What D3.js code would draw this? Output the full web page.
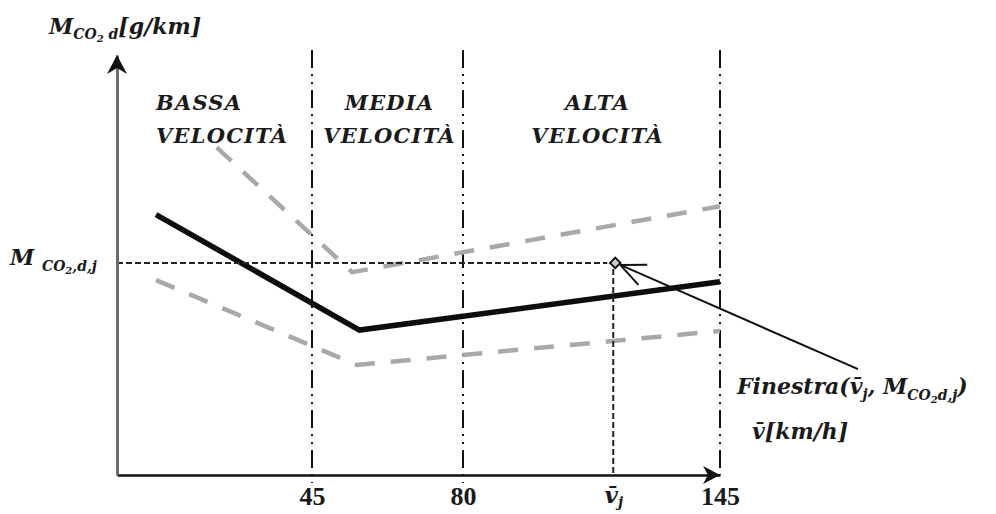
<!DOCTYPE html>
<html>
<head>
<meta charset="utf-8">
<script src="https://cdn.jsdelivr.net/npm/d3@7"></script>
<style>
  body { margin: 0; background: #fff; }
  svg { display: block; }
  .lbl { font-family: "DejaVu Serif", serif; font-weight: bold; font-style: italic; fill: #1a1a1a; }
  .num { font-family: "Liberation Serif", serif; font-weight: bold; fill: #1a1a1a; }
</style>
</head>
<body>
<div id="chart"></div>
<script>
// speed classes on the x axis (km/h)
const boundaries = [45, 80, 145];
const vj = 118;
const tickValues = [45, 80, vj, 145];
const tickLabels = ["45", "80", "v\u0304", "145"];
const regionNames = [
  ["BASSA", "VELOCITÀ"],
  ["MEDIA", "VELOCITÀ"],
  ["ALTA", "VELOCITÀ"],
];

// emission curves (x = mean speed, y = emission, arbitrary units)
const meanSpeeds = [9, 56, 145];
const meanCO2 = [62, 34.5, 46];
const upperSpeeds = [23, 54.3, 145];
const upperCO2 = [78, 48.3, 64];
const lowerSpeeds = [9, 55.4, 145];
const lowerCO2 = [46.4, 26.2, 34.3];

// the window point (vj, M_CO2,d,j)
const windowCO2 = 50.5;

const W = 996, H = 514;
const svg = d3.select("#chart").append("svg")
  .attr("width", W).attr("height", H);

// piecewise scale, the drawing is not to scale between classes
const x = d3.scaleLinear().domain([0, 45, 80, 145]).range([117, 312, 463, 720]);
const y = d3.scaleLinear().domain([0, 100]).range([475, 55]);

const toPts = (xs, ys) => xs.map((v, i) => [v, ys[i]]);
const line = d3.line().x((d) => x(d[0])).y((d) => y(d[1]));

// class boundaries (dash-dot)
svg.selectAll(".bound")
  .data(boundaries)
  .enter()
  .append("line")
  .attr("class", "bound")
  .attr("x1", (d) => x(d)).attr("x2", (d) => x(d))
  .attr("y1", y(100) - 5)
  .attr("y2", (d) => (d === 145 ? y(0) : y(0) + 8))
  .attr("stroke", "#111")
  .attr("stroke-width", 2)
  .attr("stroke-dasharray", "18,6,2,6,2,6");

// grey dashed bands
[toPts(upperSpeeds, upperCO2), toPts(lowerSpeeds, lowerCO2)].forEach((pts) => {
  svg.append("path")
    .datum(pts)
    .attr("d", line)
    .attr("fill", "none")
    .attr("stroke", "#a9a9a9")
    .attr("stroke-width", 4.5)
    .attr("stroke-dasharray", "20,16");
});

// mean curve
svg.append("path")
  .datum(toPts(meanSpeeds, meanCO2))
  .attr("d", line)
  .attr("fill", "none")
  .attr("stroke", "#0d0d0d")
  .attr("stroke-width", 5.5)
  .attr("stroke-linejoin", "miter");

// reference lines to the window point
svg.append("line")
  .attr("x1", x(0)).attr("x2", x(vj) - 6)
  .attr("y1", y(windowCO2)).attr("y2", y(windowCO2))
  .attr("stroke", "#222").attr("stroke-width", 2)
  .attr("stroke-dasharray", "6,3");
svg.append("line")
  .attr("x1", x(vj)).attr("x2", x(vj))
  .attr("y1", y(windowCO2) + 6).attr("y2", y(0))
  .attr("stroke", "#222").attr("stroke-width", 2)
  .attr("stroke-dasharray", "6,3");

// diamond marker
svg.append("path")
  .attr("d", d3.symbol(d3.symbolDiamond2, 70)())
  .attr("transform", `translate(${x(vj) + 2},${y(windowCO2)})`)
  .attr("fill", "#ccc")
  .attr("stroke", "#111")
  .attr("stroke-width", 2);

// pointer from the label to the window point
const tip = [x(vj) + 7, y(windowCO2) + 2];
const tail = [x(145) + 138, y(25.2)];
const ang = Math.atan2(tail[1] - tip[1], tail[0] - tip[0]);
svg.append("line")
  .attr("x1", tip[0]).attr("y1", tip[1])
  .attr("x2", tail[0]).attr("y2", tail[1])
  .attr("stroke", "#111").attr("stroke-width", 2);
[-0.42, 0.42].forEach((da) => {
  svg.append("line")
    .attr("x1", tip[0]).attr("y1", tip[1])
    .attr("x2", tip[0] + 27 * Math.cos(ang + da))
    .attr("y2", tip[1] + 27 * Math.sin(ang + da))
    .attr("stroke", "#111").attr("stroke-width", 2);
});

// axes
const xAxis = svg.append("g")
  .attr("transform", `translate(0,${y(0)})`)
  .call(d3.axisBottom(x).tickValues(tickValues)
    .tickFormat((d, i) => tickLabels[i])
    .tickSize(0).tickPadding(12));
xAxis.select(".domain").attr("stroke", "#111").attr("stroke-width", 2.5);
xAxis.selectAll("text")
  .attr("class", "num")
  .attr("font-size", 26)
  .attr("fill", "#1a1a1a");
xAxis.selectAll("text")
  .filter((d) => d === vj)
  .attr("class", "lbl")
  .attr("font-size", 23)
  .append("tspan")
  .attr("font-size", 14)
  .attr("dy", 4)
  .text("j");

const yAxis = svg.append("g")
  .attr("transform", `translate(${x(0)},0)`)
  .call(d3.axisLeft(y).tickValues([]).tickSizeOuter(0));
yAxis.select(".domain").attr("stroke", "#6e6a6a").attr("stroke-width", 3);

// arrow heads
const ax = x(145), ay = y(0);
svg.append("path")
  .attr("d", `M${ax},${ay} L${ax - 17},${ay - 9} L${ax - 12},${ay} L${ax - 17},${ay + 9} Z`)
  .attr("fill", "#111");
const bx = x(0), by = y(100);
svg.append("path")
  .attr("d", `M${bx},${by} L${bx - 10},${by + 19} L${bx},${by + 13} L${bx + 10},${by + 19} Z`)
  .attr("fill", "#111");

// class labels
const regionCenters = [null, (45 + 80) / 2, (80 + 145) / 2];
regionNames.forEach((lines, i) => {
  lines.forEach((s, k) => {
    svg.append("text")
      .attr("class", "lbl")
      .attr("x", i === 0 ? x(9) : x(regionCenters[i]) + (i === 2 ? 6 : 2))
      .attr("y", 110 + k * 33)
      .attr("text-anchor", i === 0 ? "start" : "middle")
      .attr("font-size", 21)
      .attr("letter-spacing", 1.2)
      .text(s);
  });
});

// y axis title  M_CO2,d [g/km]
const yt = svg.append("text").attr("class", "lbl")
  .attr("x", x(0) - 68).attr("y", y(100) - 21).attr("font-size", 22);
yt.append("tspan").text("M");
yt.append("tspan").attr("font-size", 14).attr("dy", 5).text("CO");
yt.append("tspan").attr("font-size", 10).attr("dy", 3).text("2");
yt.append("tspan").attr("font-size", 14).attr("dy", -3).text(" d");
yt.append("tspan").attr("dy", -5).text("[g/km]");

// left reference label M_CO2,d,j
const yl = svg.append("text").attr("class", "lbl")
  .attr("x", 10).attr("y", y(windowCO2) + 2).attr("font-size", 22);
yl.append("tspan").text("M ");
yl.append("tspan").attr("font-size", 14).attr("dy", 6).text("CO");
yl.append("tspan").attr("font-size", 10).attr("dy", 3).text("2");
yl.append("tspan").attr("font-size", 14).attr("dy", -3).text(",d,j");

// window label
const fl = svg.append("text").attr("class", "lbl")
  .attr("x", x(145) + 17).attr("y", y(19.4)).attr("font-size", 22);
fl.append("tspan").text("Finestra(v\u0304");
fl.append("tspan").attr("font-size", 14).attr("dy", 5).text("j");
fl.append("tspan").attr("dy", -5).text(", M");
fl.append("tspan").attr("font-size", 14).attr("dy", 6).text("CO");
fl.append("tspan").attr("font-size", 10).attr("dy", 3).text("2");
fl.append("tspan").attr("font-size", 14).attr("dy", -3).text("d,j");
fl.append("tspan").attr("dy", -6).text(")");

// x axis title
const xt = svg.append("text").attr("class", "lbl")
  .attr("x", x(145) + 32).attr("y", y(8.5)).attr("font-size", 22);
xt.append("tspan").text("v\u0304[km/h]");
</script>
</body>
</html>
